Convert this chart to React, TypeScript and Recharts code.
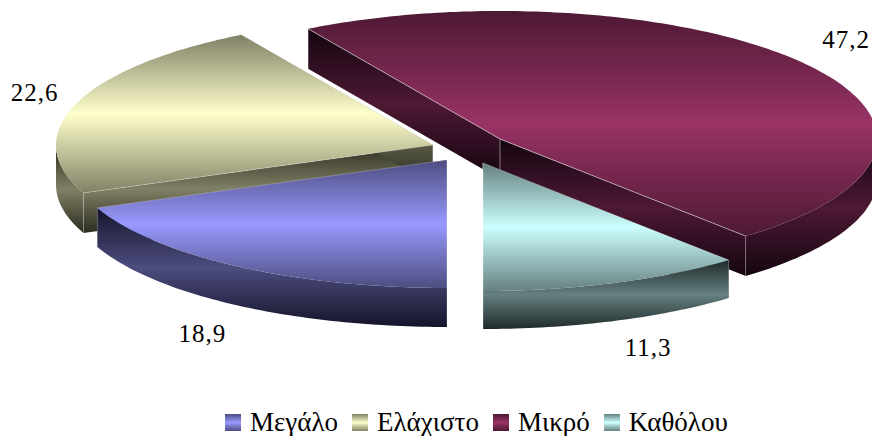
import { PieChart, Pie, Legend } from "recharts";

const categories = ["Μεγάλο", "Ελάχιστο", "Μικρό", "Καθόλου"];
const values = [18.9, 22.6, 47.2, 11.3];
// back-to-front paint order, the blue slice has to sit on top of the yellow one
const drawOrder = [1, 2, 3, 0];

const lightColors = ["#9999ff", "#ffffcc", "#993366", "#ccffff"];
const midColors = ["#4d4d80", "#808066", "#4d1933", "#668080"];
const darkColors = ["#14142a", "#2c2c20", "#140510", "#1f2a2a"];

const explodeX = [-23, -37, 30, 13];
const explodeY = [10, -5, -11, 13];
const sliceDepth = [39, 40, 40, 38];
const labelReachX = [1.16, 1.116, 1.13, 1.26];
const labelReachY = [1.64, 1.29, 1.33, 1.54];

const WIDTH = 872;
const HEIGHT = 436;
const HUB_X = 470;
const HUB_Y = 150;
const RADIUS = 377;
const SQUASH = 128 / 377;
const FONT = '"Liberation Serif", serif';
const RAD = Math.PI / 180;

const tableData = drawOrder.map((i) => ({ name: categories[i], value: values[i], idx: i }));
// first slice in the original order starts at six o'clock and runs clockwise
const firstAngle = 270 - (values[0] / values.reduce((a, b) => a + b, 0)) * 360;

function point(cx: number, cy: number, deg: number, shift = 0) {
  return [cx + RADIUS * Math.cos(deg * RAD), cy - RADIUS * SQUASH * Math.sin(deg * RAD) + shift];
}

function fmt(p: number[]) {
  return `${p[0].toFixed(1)} ${p[1].toFixed(1)}`;
}

function arcAngles(from: number, to: number) {
  const out: number[] = [];
  const steps = Math.max(2, Math.ceil(Math.abs(to - from)));
  for (let s = 0; s <= steps; s++) out.push(from + ((to - from) * s) / steps);
  return out;
}

function Slice3D(props: any) {
  const { startAngle, endAngle, payload } = props;
  const idx = payload.idx;
  const cx = HUB_X + explodeX[idx];
  const cy = HUB_Y + explodeY[idx];
  const depth = sliceDepth[idx];
  const topId = `top-${idx}`;
  const sideId = `side-${idx}`;

  const angles = arcAngles(startAngle, endAngle);
  const rim = angles.map((a) => fmt(point(cx, cy, a)));
  const topPath = `M ${cx} ${cy} L ${rim.join(" L ")} Z`;

  const front = angles.filter((a) => Math.sin(a * RAD) <= 0);
  const sidePath = front.length
    ? `M ${front.map((a) => fmt(point(cx, cy, a))).join(" L ")} L ${[...front]
        .reverse()
        .map((a) => fmt(point(cx, cy, a, depth)))
        .join(" L ")} Z`
    : "";

  const face = (deg: number) => {
    const a = point(cx, cy, deg);
    const b = point(cx, cy, deg, depth);
    return `M ${cx} ${cy} L ${fmt(a)} L ${fmt(b)} L ${cx} ${cy + depth} Z`;
  };
  const upright = (deg: number) => {
    const a = point(cx, cy, deg);
    return `M ${fmt(a)} L ${a[0].toFixed(1)} ${(a[1] + depth).toFixed(1)} M ${cx} ${cy} L ${cx} ${cy + depth}`;
  };
  const s = point(cx, cy, startAngle);
  const e = point(cx, cy, endAngle);

  return (
    <g>
      <defs>
        <linearGradient id={topId} x1="0" y1="0" x2="0" y2="1">
          <stop offset="0" stopColor={midColors[idx]} />
          <stop offset="0.5" stopColor={lightColors[idx]} />
          <stop offset="1" stopColor={midColors[idx]} />
        </linearGradient>
        <linearGradient id={sideId} x1="0" y1="0" x2="0" y2="1">
          <stop offset="0" stopColor={darkColors[idx]} />
          <stop offset="0.5" stopColor={midColors[idx]} />
          <stop offset="1" stopColor={darkColors[idx]} />
        </linearGradient>
      </defs>
      <path d={face(startAngle)} fill={`url(#${sideId})`} />
      <path d={face(endAngle)} fill={`url(#${sideId})`} />
      {sidePath && <path d={sidePath} fill={`url(#${sideId})`} />}
      <path d={upright(startAngle)} stroke="#ffffff" strokeOpacity={0.35} strokeWidth={0.7} fill="none" />
      <path d={upright(endAngle)} stroke="#ffffff" strokeOpacity={0.35} strokeWidth={0.7} fill="none" />
      <path d={topPath} fill={`url(#${topId})`} />
      <path
        d={`M ${fmt(s)} L ${cx} ${cy} L ${fmt(e)}`}
        stroke="#ffffff"
        strokeOpacity={idx === 2 ? 0.6 : 0.35}
        strokeWidth={0.8}
        fill="none"
      />
    </g>
  );
}

function SliceLabel(props: any) {
  const { midAngle, payload } = props;
  const idx = payload.idx;
  const x = HUB_X + explodeX[idx] + RADIUS * labelReachX[idx] * Math.cos(midAngle * RAD);
  const y = HUB_Y + explodeY[idx] - RADIUS * SQUASH * labelReachY[idx] * Math.sin(midAngle * RAD);
  return (
    <text
      x={x}
      y={y}
      textAnchor="middle"
      dominantBaseline="central"
      fontFamily={FONT}
      fontSize={25}
      letterSpacing={1}
      fill="#000"
    >
      {String(payload.value).replace(".", ",")}
    </text>
  );
}

function LegendRow() {
  return (
    <div style={{ display: "flex", alignItems: "center", paddingLeft: 225, fontFamily: FONT, fontSize: 27, color: "#000" }}>
      {categories.map((name, i) => (
        <div key={name} style={{ display: "flex", alignItems: "center", marginRight: i < categories.length - 1 ? 14 : 0 }}>
          <span
            style={{
              width: 16,
              height: 17,
              marginRight: 9,
              display: "inline-block",
              background: `linear-gradient(${midColors[i]}, ${lightColors[i]}, ${midColors[i]})`,
            }}
          />
          <span>{name}</span>
        </div>
      ))}
    </div>
  );
}

export default function App() {
  return (
    <div style={{ position: "absolute", left: 0, top: 0, width: WIDTH, height: HEIGHT, overflow: "hidden", background: "#fff" }}>
      <PieChart width={WIDTH} height={HEIGHT} margin={{ top: 0, right: 0, bottom: 0, left: 0 }}>
        <Pie
          data={tableData}
          dataKey="value"
          nameKey="name"
          cx={HUB_X}
          cy={HUB_Y}
          innerRadius={0}
          outerRadius={RADIUS}
          startAngle={firstAngle}
          endAngle={firstAngle - 360}
          stroke="none"
          shape={Slice3D}
          label={SliceLabel}
          labelLine={false}
          isAnimationActive={false}
        />
        <Legend
          content={<LegendRow />}
          verticalAlign="bottom"
          wrapperStyle={{ left: 0, width: WIDTH, bottom: -2 }}
        />
      </PieChart>
    </div>
  );
}
